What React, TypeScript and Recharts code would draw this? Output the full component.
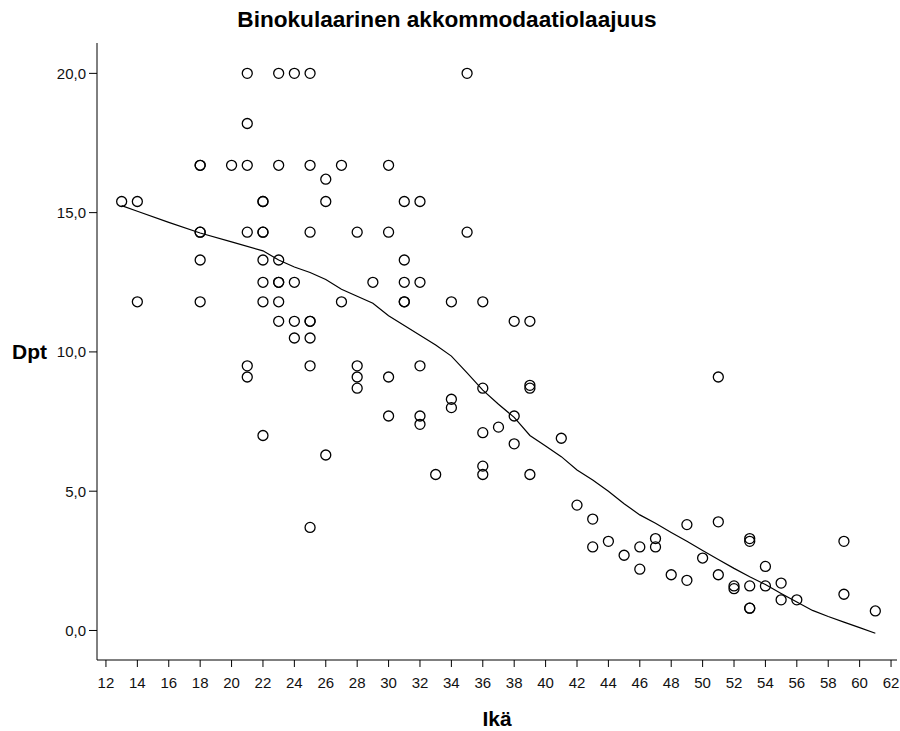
import React from 'react';
import { ComposedChart, Scatter, Line, XAxis, YAxis, Label } from 'recharts';

// Observed data: age (Ikä) and binocular accommodation amplitude (Dpt)
const pointAges = [
  13, 14, 14,
  18, 18, 18, 18, 18, 18,
  20,
  21, 21, 21, 21, 21, 21,
  22, 22, 22, 22, 22, 22, 22, 22,
  23, 23, 23, 23, 23, 23, 23,
  24, 24, 24, 24,
  25, 25, 25, 25, 25, 25, 25, 25,
  26, 26, 26,
  27, 27,
  28, 28, 28, 28,
  29,
  30, 30, 30, 30,
  31, 31, 31, 31, 31,
  32, 32, 32, 32, 32,
  33,
  34, 34, 34,
  35, 35,
  36, 36, 36, 36, 36,
  37,
  38, 38, 38,
  39, 39, 39, 39,
  41, 42, 43, 43, 44, 45, 46, 46, 47, 47, 48, 49, 49, 50,
  51, 51, 51,
  52, 52,
  53, 53, 53, 53, 53,
  54, 54, 55, 55, 56, 59, 59, 61,
];
const pointDpt = [
  15.4, 15.4, 11.8,
  16.7, 16.7, 14.3, 14.3, 13.3, 11.8,
  16.7,
  20.0, 18.2, 16.7, 14.3, 9.5, 9.1,
  15.4, 15.4, 14.3, 14.3, 13.3, 12.5, 11.8, 7.0,
  20.0, 16.7, 13.3, 12.5, 12.5, 11.8, 11.1,
  20.0, 12.5, 11.1, 10.5,
  20.0, 16.7, 14.3, 11.1, 11.1, 10.5, 9.5, 3.7,
  16.2, 15.4, 6.3,
  16.7, 11.8,
  14.3, 9.5, 9.1, 8.7,
  12.5,
  16.7, 14.3, 9.1, 7.7,
  15.4, 13.3, 12.5, 11.8, 11.8,
  15.4, 12.5, 9.5, 7.7, 7.4,
  5.6,
  11.8, 8.3, 8.0,
  20.0, 14.3,
  11.8, 8.7, 7.1, 5.9, 5.6,
  7.3,
  11.1, 7.7, 6.7,
  11.1, 8.8, 8.7, 5.6,
  6.9, 4.5, 4.0, 3.0, 3.2, 2.7, 3.0, 2.2, 3.3, 3.0, 2.0, 3.8, 1.8, 2.6,
  9.1, 3.9, 2.0,
  1.6, 1.5,
  3.3, 3.2, 1.6, 0.8, 0.8,
  2.3, 1.6, 1.7, 1.1, 1.1, 3.2, 1.3, 0.7,
];

// Fitted (loess) curve
const curveAges = [13, 14, 16, 18, 20, 22, 23, 24, 25, 26, 27, 28, 29, 30, 31, 32, 33, 34, 35, 36, 37, 38, 39, 40, 41, 42, 43, 44, 45, 46, 47, 48, 49, 50, 51, 52, 53, 54, 55, 56, 57, 58, 59, 60, 61];
const curveDpt = [15.25, 15.05, 14.65, 14.27, 13.95, 13.63, 13.3, 13.05, 12.85, 12.6, 12.25, 12.0, 11.75, 11.3, 10.95, 10.6, 10.25, 9.85, 9.25, 8.63, 8.12, 7.65, 7.0, 6.62, 6.24, 5.76, 5.4, 5.0, 4.55, 4.15, 3.85, 3.52, 3.2, 2.87, 2.55, 2.23, 1.93, 1.65, 1.33, 1.02, 0.72, 0.5, 0.3, 0.1, -0.1];

const xTicks = [12, 14, 16, 18, 20, 22, 24, 26, 28, 30, 32, 34, 36, 38, 40, 42, 44, 46, 48, 50, 52, 54, 56, 58, 60, 62];
const yTicks = [0, 5, 10, 15, 20];

const titleText = 'Binokulaarinen akkommodaatiolaajuus';
const xTitle = 'Ikä';
const yTitle = 'Dpt';

const points = pointAges.map((a, i) => ({ age: a, dpt: pointDpt[i] }));
const curve = curveAges.map((a, i) => ({ age: a, dpt: curveDpt[i] }));

const FONT = '"Liberation Sans", Arial, sans-serif';

const Ring = (props: any) => {
  const { cx, cy } = props;
  if (cx == null || cy == null) return null;
  return <circle cx={cx} cy={cy} r={5} fill="none" stroke="#000" strokeWidth={1.3} />;
};

export default function App() {
  return (
    <div style={{ position: 'absolute', left: 0, top: 0, width: 900, height: 731, background: '#fff', fontFamily: FONT }}>
      <svg width={900} height={40} style={{ position: 'absolute', left: 0, top: 0 }}>
        <text x={447} y={27} textAnchor="middle" fontFamily={FONT} fontWeight="bold" fontSize={22.6} fill="#000">
          {titleText}
        </text>
      </svg>
      <div style={{ position: 'absolute', left: 0, top: 0 }}>
        <ComposedChart width={900} height={731} margin={{ top: 43, right: 3, bottom: 0, left: 0 }}>
          <XAxis
            type="number"
            dataKey="age"
            domain={[11.43, 62.38]}
            allowDataOverflow
            ticks={xTicks}
            interval={0}
            height={71}
            tickSize={7}
            tickMargin={10}
            stroke="#000"
            tick={{ fill: '#111', fontSize: 15, fontFamily: FONT }}
          >
            <Label value={xTitle} position="insideBottom" offset={5} style={{ fontWeight: 'bold', fontSize: 21, fontFamily: FONT, fill: '#000' }} />
          </XAxis>
          <XAxis xAxisId="top" orientation="top" type="number" domain={[0, 1]} height={0} tick={false} tickLine={false} stroke="#000" strokeWidth={1.6} />
          <YAxis
            type="number"
            dataKey="dpt"
            domain={[-1.06, 21.09]}
            allowDataOverflow
            ticks={yTicks}
            interval={0}
            width={97}
            tickSize={8}
            tickMargin={3}
            stroke="#000"
            tickFormatter={(v: number) => v.toFixed(1).replace('.', ',')}
            tick={{ fill: '#111', fontSize: 15, fontFamily: FONT }}
          >
            <Label value={yTitle} position="insideLeft" offset={12} style={{ fontWeight: 'bold', fontSize: 21, fontFamily: FONT, fill: '#000', textAnchor: 'start' }} />
          </YAxis>
          <YAxis yAxisId="right" orientation="right" type="number" domain={[0, 1]} width={0} tick={false} tickLine={false} stroke="#000" strokeWidth={1.3} />
          <Scatter data={points} dataKey="dpt" shape={Ring} isAnimationActive={false} />
          <Line data={curve} dataKey="dpt" type="linear" stroke="#000" strokeWidth={1.2} dot={false} activeDot={false} isAnimationActive={false} />
        </ComposedChart>
      </div>
    </div>
  );
}
